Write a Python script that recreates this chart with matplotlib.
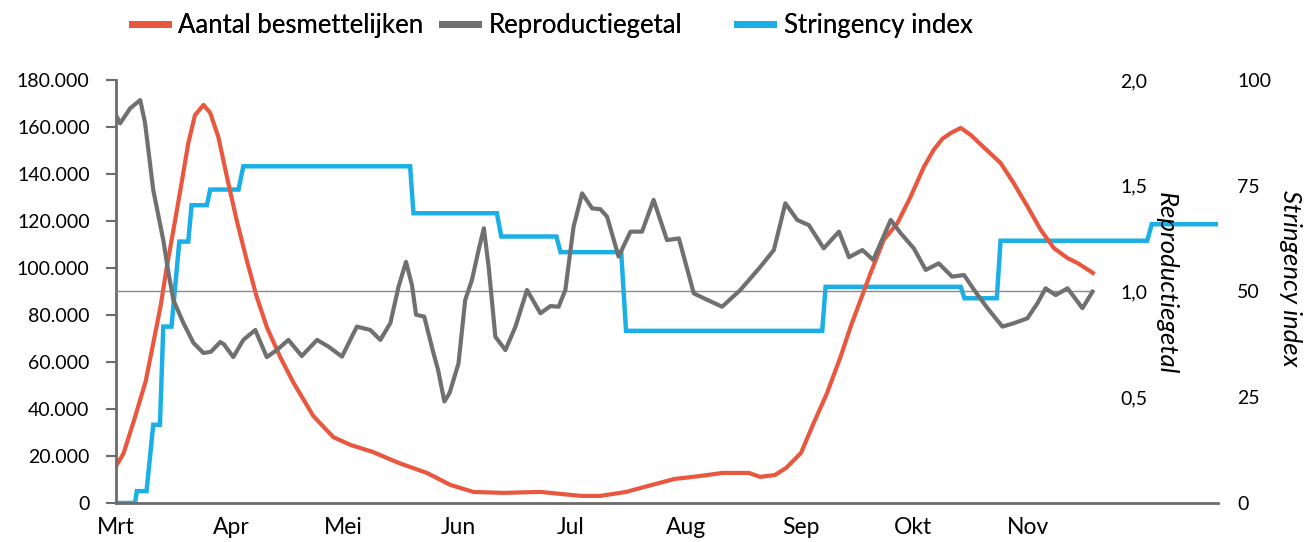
import matplotlib
matplotlib.use("Agg")
import matplotlib.pyplot as plt
from matplotlib.ticker import FuncFormatter, FixedLocator
import pandas as pd

# dagen gerekend vanaf 1 maart 2020
START = pd.Timestamp("2020-03-01")

dag_besm = [0, 2, 5, 8, 10, 12, 13.6, 15.4, 17.7, 19.4, 21.2, 23.5, 25.3, 27.5, 29.8,
            32.4, 35.1, 37.8, 40.5, 44.1, 47.7, 53, 58.4, 63, 69, 76, 83.5, 89.8, 96,
            104, 114, 125, 130, 137, 144, 150, 157, 163, 170, 173, 177, 180, 184, 187.4,
            191, 194.6, 197.3, 200, 202.7, 206.2, 209.9, 213.4, 217, 219.6, 222, 224.2,
            226.9, 229.6, 233, 237.6, 241.1, 244.9, 248.4, 251.9, 255.6, 258.3, 262.4]
besmettelijk = [15700, 21000, 36000, 52000, 68000, 84000, 100000, 116000, 137000, 153000,
                165000, 169400, 166000, 155700, 138700, 120400, 103400, 87700, 74900, 62100,
                51100, 37000, 28000, 24700, 21700, 17000, 12800, 7700, 4700, 4300, 4700,
                3000, 3000, 4700, 7700, 10200, 11500, 12800, 12800, 11100, 11900, 14900,
                21300, 34000, 46800, 62100, 74900, 86400, 97900, 111900, 119100, 130200,
                143000, 150200, 155000, 157400, 159600, 156600, 151500, 144700, 136200,
                126000, 116200, 108500, 104200, 102100, 97900]

dag_r = [0, 1.1, 3.8, 6.5, 7.8, 10, 12.7, 14.1, 15.4, 18.1, 20.8, 23.5, 25.5, 28, 29,
         31.5, 34.2, 37.4, 40.5, 43.2, 46.3, 49.9, 54, 57.1, 60.7, 64.7, 68.3, 71, 73.7,
         75.9, 77.9, 79.5, 80.6, 82.8, 85.1, 86.5, 88.2, 89.6, 92, 93.8, 95.6, 97.4, 98.8,
         100.1, 101.9, 104.6, 107.3, 110.4, 114, 116.7, 118.9, 120.7, 122.9, 125.2, 127.9,
         130.1, 131.9, 135, 138.2, 141.3, 144.4, 148, 151.2, 155.2, 157.9, 162.8, 167.7,
         173.1, 176.7, 179.8, 183, 186.1, 190.1, 194.2, 196.9, 200.5, 203.4, 208.1, 210.8,
         214.3, 217.5, 221, 224.6, 227.8, 230.5, 234.1, 238.1, 241.2, 244.8, 247.5, 249.7,
         252.4, 255.6, 259.6, 262.3]
reproductie = [1.834, 1.795, 1.866, 1.905, 1.797, 1.48, 1.243, 1.087, 0.96, 0.851, 0.757,
               0.709, 0.715, 0.761, 0.75, 0.69, 0.771, 0.818, 0.69, 0.723, 0.771, 0.695,
               0.771, 0.739, 0.692, 0.834, 0.818, 0.771, 0.851, 1.023, 1.14, 1.03, 0.89,
               0.881, 0.72, 0.63, 0.48, 0.52, 0.66, 0.96, 1.054, 1.196, 1.299, 1.117, 0.786,
               0.723, 0.834, 1.007, 0.897, 0.931, 0.928, 1.007, 1.306, 1.464, 1.393, 1.389,
               1.354, 1.165, 1.283, 1.283, 1.433, 1.243, 1.251, 0.991, 0.968, 0.928, 1.007,
               1.117, 1.196, 1.417, 1.338, 1.314, 1.204, 1.283, 1.162, 1.196, 1.149, 1.338,
               1.275, 1.204, 1.102, 1.133, 1.07, 1.078, 1.007, 0.921, 0.834, 0.85, 0.873,
               0.944, 1.015, 0.983, 1.015, 0.921, 0.999]

dag_si = [0, 5.1, 5.6, 8.2, 10, 11.8, 12.7, 14.9, 17, 19.4, 20.3, 24.4, 25.3, 32.9, 34.2,
          79, 79.9, 102.3, 103.5, 118.3, 119.4, 135.7, 137, 189.7, 190.6, 226.9, 227.9,
          236.6, 237.6, 277, 278.2, 295.7]
stringency = [0, 0, 2.8, 2.8, 18.5, 18.5, 41.7, 41.7, 61.8, 61.8, 70.4, 70.4, 74.1, 74.1,
              79.6, 79.6, 68.5, 68.5, 63.0, 63.0, 59.3, 59.3, 40.7, 40.7, 51.1, 51.1, 48.4,
              48.4, 62.0, 62.0, 65.9, 65.9]

maanden = ["Mrt", "Apr", "Mei", "Jun", "Jul", "Aug", "Sep", "Okt", "Nov"]

ROOD = "#E9573F"
GRIJS = "#707070"
BLAUW = "#1AAFE6"
AS = "#6b6b6b"
FONT = "Lato"


def naar_datum(dagen):
    return START + pd.to_timedelta(dagen, unit="D")


fig = plt.figure(figsize=(13.05, 5.42), dpi=100)
ax3 = fig.add_axes([0.0889, 0.072, 0.8444, 0.7804])   # stringency (onderste laag)
ax = fig.add_axes([0.0889, 0.072, 0.8444, 0.7804], sharex=ax3)
ax2 = fig.add_axes([0.0889, 0.072, 0.8444, 0.7804], sharex=ax3)
for a, z in ((ax3, 1), (ax, 2), (ax2, 3)):
    a.set_zorder(z)
    a.patch.set_visible(False)

l_si, = ax3.plot(naar_datum(dag_si), stringency, color=BLAUW, lw=3.2,
                 solid_joinstyle="miter", label="Stringency index")
l_b, = ax.plot(naar_datum(dag_besm), besmettelijk, color=ROOD, lw=3.0,
               solid_joinstyle="round", label="Aantal besmettelijken")
ax2.hlines(1.0, naar_datum(dag_r[0]), naar_datum(dag_r[-1]), color="#8a8a8a", lw=1.0)
l_r, = ax2.plot(naar_datum(dag_r), reproductie, color=GRIJS, lw=3.0,
                solid_joinstyle="round", label="Reproductiegetal")

ax3.set_xlim(START, START + pd.Timedelta(days=296))

# linker as
ax.set_ylim(0, 180000)
ax.yaxis.set_major_locator(FixedLocator(range(0, 180001, 20000)))
ax.yaxis.set_major_formatter(FuncFormatter(lambda v, p: f"{v:,.0f}".replace(",", ".")))
ax.tick_params(axis="y", length=7, width=1.5, color=AS, pad=12, labelsize=14)
for s in ("top", "right"):
    ax.spines[s].set_visible(False)
for s in ("left", "bottom"):
    ax.spines[s].set_color(AS)
    ax.spines[s].set_linewidth(2)

maand_ticks = pd.date_range("2020-03-01", "2020-11-01", freq="MS")
ax.set_xticks(maand_ticks)
ax.set_xticklabels(maanden)
ax.tick_params(axis="x", length=0, pad=10, labelsize=16.5)

# reproductiegetal
ax2.set_ylim(0, 2)
ax2.yaxis.tick_right()
ax2.yaxis.set_label_position("right")
ax2.set_yticks([0.5, 1.0, 1.5, 2.0])
ax2.yaxis.set_major_formatter(FuncFormatter(lambda v, p: f"{v:.1f}".replace(".", ",")))
ax2.tick_params(axis="y", length=0, pad=5, labelsize=14)
ax2.spines["right"].set_position(("axes", 0.905))
for s in ax2.spines.values():
    s.set_visible(False)
ax2.tick_params(axis="x", bottom=False, labelbottom=False)
ax2.set_ylabel("Reproductiegetal", rotation=270, fontsize=18.5, style="italic",
               ha="center", va="center")
ax2.yaxis.set_label_coords(0.953, 0.52)

# stringency index
ax3.set_ylim(0, 100)
ax3.yaxis.tick_right()
ax3.yaxis.set_label_position("right")
ax3.set_yticks([0, 25, 50, 75, 100])
ax3.tick_params(axis="y", length=0, pad=14, labelsize=14)
for s in ax3.spines.values():
    s.set_visible(False)
ax3.tick_params(axis="x", bottom=False, labelbottom=False)
ax3.set_ylabel("Stringency index", rotation=270, fontsize=18.5, style="italic",
               ha="center", va="center")
ax3.yaxis.set_label_coords(1.066, 0.53)

for a in (ax, ax2, ax3):
    for t in a.get_xticklabels() + a.get_yticklabels():
        t.set_fontfamily(FONT)
    a.yaxis.label.set_fontfamily(FONT)

# legenda: drie losse items zoals in het origineel
for lijn, x0 in ((l_b, 0.101), (l_r, 0.339), (l_si, 0.565)):
    leg = fig.legend(handles=[lijn], loc="center left", bbox_to_anchor=(x0, 0.953),
                     frameon=False, handlelength=1.4, handletextpad=0.4,
                     borderaxespad=0, borderpad=0, prop={"family": FONT, "size": 18.5})
    leg.legend_handles[0].set_linewidth(5)
    fig.add_artist(leg)

fig.savefig("out.png", dpi=100)
